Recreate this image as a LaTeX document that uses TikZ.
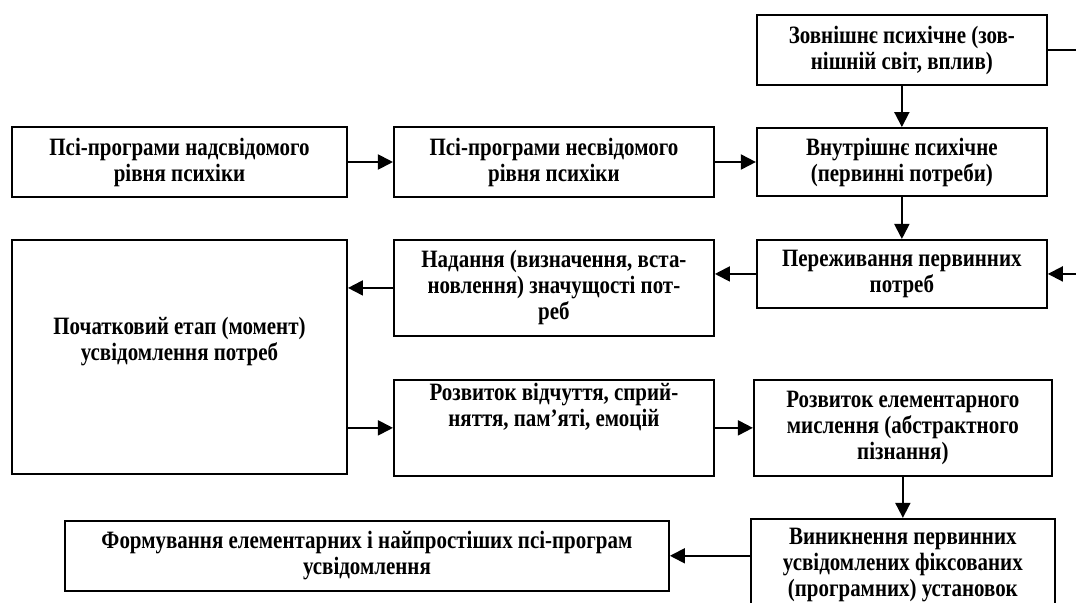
\documentclass[tikz,border=0pt]{standalone}
\usepackage{fontspec}
\setmainfont{Liberation Serif}[FakeStretch=0.84]
\usetikzlibrary{positioning,arrows.meta}

\tikzset{
  blk/.style={draw, line width=1.1pt, align=center, inner sep=0pt,
    font=\bfseries\fontsize{14.2pt}{14.8pt}\selectfont},
  arr/.style={line width=1.1pt, -{Triangle[length=0.3cm,width=0.3cm]}}
}

\begin{document}
\begin{tikzpicture}
   \useasboundingbox (0,0) rectangle (21.52,-12.06);
   \clip (0,0) rectangle (21.52,-12.06);
   \node[blk, minimum width=6.7cm, minimum height=1.4cm] (psA) at (3.59,-3.24) {Псі-програми надсвідомого\\рівня психіки};
   \node[blk, minimum width=6.4cm, minimum height=1.4cm, right=0.9cm of psA] (psB) {Псі-програми несвідомого\\рівня психіки};
   \node[blk, minimum width=5.8cm, minimum height=1.36cm, right=0.82cm of psB] (int) {Внутрішнє психічне\\(первинні потреби)};
   \node[blk, minimum width=5.8cm, minimum height=1.4cm, above=0.82cm of int] (ext) {Зовнішнє психічне (зов-\\нішній світ, вплив)};
   \node[blk, minimum width=5.8cm, minimum height=1.36cm, below=0.84cm of int] (per) {Переживання первинних\\потреб};
   \node[blk, minimum width=6.4cm, minimum height=1.92cm, left=0.82cm of per.north west, anchor=north east] (nad) {Надання (визначення, вста-\\новлення) значущості пот-\\реб};
   \node[blk, minimum width=6.7cm, minimum height=4.68cm, left=0.9cm of nad.north west, anchor=north east] (poch) {Початковий етап (момент)\\усвідомлення потреб\\[0.2cm]\mbox{}};
   \node[blk, minimum width=6.4cm, minimum height=1.92cm, below=0.84cm of nad] (rozv1) {Розвиток відчуття, сприй-\\няття, пам’яті, емоцій\\[0.4cm]\mbox{}};
   \node[blk, minimum width=5.96cm, minimum height=1.92cm, right=0.76cm of rozv1.north east, anchor=north west] (rozv2) {Розвиток елементарного\\мислення (абстрактного\\пізнання)};
   \node[blk, minimum width=6.08cm, minimum height=1.84cm, below=0.82cm of rozv2] (vyn) {Виникнення первинних\\усвідомлених фіксованих\\(програмних) установок};
   \node[blk, minimum width=12.08cm, minimum height=1.4cm, left=1.6cm of vyn.north west, anchor=north east, yshift=-0.04cm] (form) {Формування елементарних і найпростіших псі-програм\\усвідомлення};
   % loose ends at the right rim
   \coordinate (rim) at (21.7,0);
   \coordinate (extout) at (ext.east -| rim);
   \coordinate (perin) at (per.east -| rim);
   \path[arr] (psA) edge (psB);
   \path[arr] (psB) edge (int);
   \path[arr] (ext) edge (int);
   \path[arr] (int) edge (per);
   \path[draw, line width=1.1pt] (ext.east) -- (extout);
   \path[arr] (perin) edge (per.east);
   \path[arr] (per.west) edge (per.west -| nad.east);
   \path[arr] (nad.west) edge (nad.west -| poch.east);
   \path[arr] (rozv1.west -| poch.east) edge (rozv1.west);
   \path[arr] (rozv1) edge (rozv2);
   \path[arr] (rozv2) edge (vyn);
   \path[arr] (vyn.west |- form.east) edge (form.east);
\end{tikzpicture}
\end{document}
